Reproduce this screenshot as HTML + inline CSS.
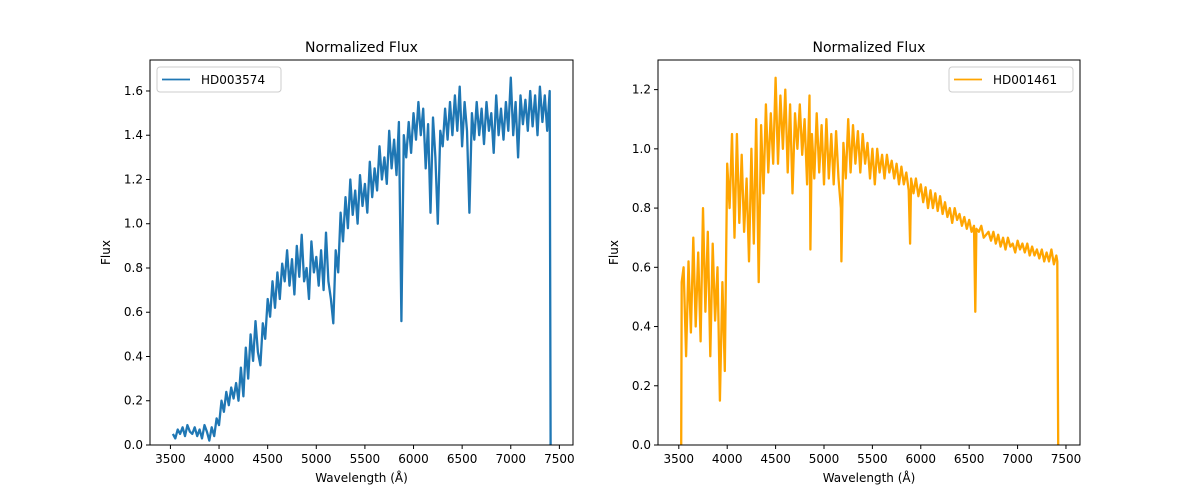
<!DOCTYPE html>
<html><head><meta charset="utf-8"><style>
body{margin:0;background:#fff;font-family:"DejaVu Sans","Liberation Sans",sans-serif;}
svg text{font-family:"DejaVu Sans","Liberation Sans",sans-serif;fill:#000}
</style></head><body>
<svg id="c" width="1200" height="500" xmlns="http://www.w3.org/2000/svg"></svg>
<script>
const wlA=[3525,3550,3575,3600,3625,3650,3675,3700,3725,3750,3775,3800,3825,3850,3875,3900,3925,3950,3975,4000,4025,4050,4075,4100,4125,4150,4175,4200,4225,4250,4275,4300,4325,4350,4375,4400,4425,4450,4475,4500,4525,4550,4575,4600,4625,4650,4675,4700,4725,4750,4775,4800,4825,4850,4875,4900,4925,4950,4975,5000,5025,5050,5075,5100,5125,5150,5175,5200,5225,5250,5275,5300,5325,5350,5375,5400,5425,5450,5475,5500,5525,5550,5575,5600,5625,5650,5675,5700,5725,5750,5775,5800,5825,5850,5875,5900,5925,5950,5975,6000,6025,6050,6075,6100,6125,6150,6175,6200,6225,6250,6275,6300,6325,6350,6375,6400,6425,6450,6475,6500,6525,6550,6575,6600,6625,6650,6675,6700,6725,6750,6775,6800,6825,6850,6875,6900,6925,6950,6975,7000,7025,7050,7075,7100,7125,7150,7175,7200,7225,7250,7275,7300,7325,7350,7375,7400,7410];
const fluxA=[0.05,0.03,0.07,0.05,0.08,0.04,0.09,0.06,0.05,0.08,0.04,0.07,0.03,0.09,0.06,0.02,0.08,0.04,0.12,0.09,0.20,0.15,0.24,0.18,0.26,0.21,0.28,0.20,0.35,0.22,0.44,0.30,0.50,0.38,0.56,0.42,0.36,0.55,0.48,0.66,0.58,0.74,0.62,0.78,0.66,0.82,0.74,0.88,0.72,0.84,0.68,0.90,0.76,0.95,0.74,0.80,0.66,0.92,0.78,0.85,0.72,0.88,0.70,0.96,0.74,0.66,0.55,0.88,0.78,1.05,0.92,1.12,0.98,1.20,1.04,1.15,1.00,1.22,1.08,1.18,1.05,1.28,1.12,1.25,1.15,1.35,1.20,1.30,1.18,1.42,1.25,1.38,1.22,1.46,0.56,1.40,1.30,1.46,1.32,1.50,1.38,1.55,1.40,1.52,1.25,1.45,1.05,1.48,1.30,1.00,1.42,1.35,1.52,1.38,1.55,1.40,1.58,1.42,1.62,1.35,1.55,1.42,1.05,1.50,1.38,1.55,1.40,1.52,1.36,1.55,1.42,1.50,1.32,1.58,1.40,1.52,1.38,1.55,1.42,1.66,1.40,1.55,1.30,1.58,1.45,1.56,1.42,1.60,1.44,1.58,1.40,1.62,1.46,1.58,1.42,1.60,0.0];
const wlB=[3525,3530,3550,3575,3600,3625,3650,3675,3700,3725,3750,3775,3800,3825,3850,3875,3900,3925,3950,3975,4000,4025,4050,4075,4100,4125,4150,4175,4200,4225,4250,4275,4300,4325,4350,4375,4400,4425,4450,4475,4500,4525,4550,4575,4600,4625,4650,4675,4700,4725,4750,4775,4800,4825,4850,4860,4875,4900,4925,4950,4975,5000,5025,5050,5075,5100,5125,5150,5175,5180,5200,5225,5250,5275,5300,5325,5350,5375,5400,5425,5450,5475,5500,5525,5550,5575,5600,5625,5650,5675,5700,5725,5750,5775,5800,5825,5850,5875,5890,5900,5925,5950,5975,6000,6025,6050,6075,6100,6125,6150,6175,6200,6225,6250,6275,6300,6325,6350,6375,6400,6425,6450,6475,6500,6525,6550,6563,6575,6600,6625,6650,6700,6725,6750,6775,6800,6825,6850,6875,6900,6925,6950,6975,7000,7025,7050,7075,7100,7125,7150,7175,7200,7225,7250,7275,7300,7325,7350,7375,7400,7410,7420];
const fluxB=[0.0,0.55,0.60,0.30,0.62,0.38,0.70,0.40,0.65,0.35,0.80,0.45,0.72,0.30,0.68,0.42,0.60,0.15,0.55,0.25,0.95,0.80,1.05,0.70,1.05,0.75,0.98,0.72,0.90,0.62,1.00,0.68,1.10,0.55,1.08,0.85,1.15,0.92,1.12,0.95,1.24,0.95,1.18,1.00,1.20,0.92,1.15,0.85,1.12,1.00,1.15,0.98,1.10,0.88,1.18,0.66,1.05,0.90,1.12,0.92,1.08,0.88,1.10,0.90,1.05,0.88,1.06,0.90,0.80,0.62,1.02,0.90,1.10,0.92,1.08,0.95,1.06,0.92,1.05,0.95,1.02,0.90,1.00,0.88,1.00,0.92,0.98,0.90,0.98,0.92,0.96,0.90,0.95,0.88,0.94,0.88,0.92,0.86,0.68,0.90,0.85,0.90,0.84,0.88,0.82,0.87,0.80,0.86,0.80,0.85,0.79,0.84,0.78,0.82,0.77,0.80,0.75,0.80,0.76,0.78,0.74,0.77,0.73,0.76,0.72,0.74,0.45,0.73,0.72,0.74,0.70,0.72,0.69,0.72,0.68,0.71,0.67,0.70,0.66,0.70,0.67,0.68,0.65,0.69,0.66,0.68,0.65,0.68,0.64,0.67,0.64,0.66,0.63,0.66,0.62,0.65,0.62,0.66,0.61,0.64,0.62,0.0];
const xTicks=[3500,4000,4500,5000,5500,6000,6500,7000,7500];
const yTicksA=[0.0,0.2,0.4,0.6,0.8,1.0,1.2,1.4,1.6];
const yTicksB=[0.0,0.2,0.4,0.6,0.8,1.0,1.2];
const NS="http://www.w3.org/2000/svg";
const svg=document.getElementById('c');
function mk(tag,attrs,parent){const e=document.createElementNS(NS,tag);for(const k in attrs)e.setAttribute(k,attrs[k]);(parent||svg).appendChild(e);return e;}
function panel(key,L,R,T,B,xmin,xmax,ymax,wl,fl,yt,color,label,legendRight){
  const g=mk('g',{});
  
  
  const sx=v=>L+(v-xmin)/(xmax-xmin)*(R-L);
  const sy=v=>B-v/ymax*(B-T);
  const clipId='clip'+key;
  const cp=mk('clipPath',{id:clipId},g);mk('rect',{x:L,y:T,width:R-L,height:B-T},cp);
  let d='';wl.forEach((w,i)=>{d+=(i?'L':'M')+sx(w).toFixed(1)+','+sy(fl[i]).toFixed(1);});
  const line=mk('path',{d:d,fill:'none',stroke:color,'stroke-width':2.3,'stroke-linejoin':'round','clip-path':'url(#'+clipId+')'},g);
  
  
  const frame=mk('rect',{x:L,y:T,width:R-L,height:B-T,fill:'none',stroke:'#000','stroke-width':1},g);
  
  
  xTicks.forEach(t=>{const x=sx(t);mk('line',{x1:x,x2:x,y1:B,y2:B+4,stroke:'#000'},g);
    const tx=mk('text',{x:x,y:B+18,'font-size':12,'text-anchor':'middle'},g);tx.textContent=t;
    
    });
  yt.forEach(t=>{const y=sy(t);mk('line',{x1:L-4,x2:L,y1:y,y2:y,stroke:'#000'},g);
    const tx=mk('text',{x:L-7,y:y+4,'font-size':12,'text-anchor':'end'},g);tx.textContent=t.toFixed(1);
    
    });
  const ti=mk('text',{x:(L+R)/2,y:T-8,'font-size':14,'text-anchor':'middle'},g);ti.textContent='Normalized Flux';
  
  
  const xl=mk('text',{x:(L+R)/2,y:B+37,'font-size':12,'text-anchor':'middle'},g);xl.textContent='Wavelength (Å)';
  
  
  const yl=mk('text',{x:0,y:0,'font-size':12,'text-anchor':'middle',transform:'translate('+(L-40)+','+((T+B)/2)+') rotate(-90)'},g);yl.textContent='Flux';
  
  
  const lw=124,lx=legendRight?R-lw-7:L+7,ly=T+7;
  const lg=mk('g',{},g);
  
  
  mk('rect',{x:lx,y:ly,width:lw,height:25,rx:3,fill:'#fff','fill-opacity':0.8,stroke:'#ccc'},lg);
  mk('line',{x1:lx+5,x2:lx+33,y1:ly+12.5,y2:ly+12.5,stroke:color,'stroke-width':1.8},lg);
  const lt=mk('text',{x:lx+44,y:ly+17,'font-size':12},lg);lt.textContent=label;
}
panel('left',150,573,60,445,3290,7640,1.74,wlA,fluxA,yTicksA,'#1f77b4','HD003574',false);
panel('right',658,1080,60,445,3285,7645,1.30,wlB,fluxB,yTicksB,'#ffa500','HD001461',true);
</script>
</body></html>
